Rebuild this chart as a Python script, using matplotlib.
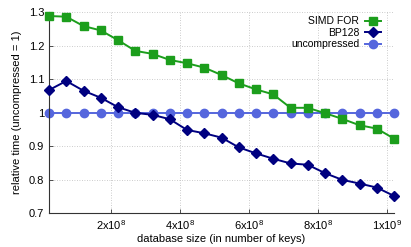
import matplotlib
matplotlib.use("Agg")
import matplotlib.pyplot as plt

plt.rcParams["font.family"] = ["Liberation Sans", "DejaVu Sans"]
plt.rcParams["mathtext.fontset"] = "custom"
plt.rcParams["mathtext.rm"] = "Liberation Sans"

# database size (number of keys)
keys = [2e7 + i * 5e7 for i in range(21)]

simd_for = [1.288, 1.286, 1.258, 1.245, 1.216, 1.184, 1.175, 1.157, 1.147, 1.134,
            1.112, 1.087, 1.069, 1.054, 1.014, 1.014, 0.998, 0.981, 0.962, 0.952, 0.922]
bp128 = [1.067, 1.094, 1.065, 1.044, 1.016, 0.999, 0.993, 0.980, 0.948, 0.938,
         0.925, 0.896, 0.878, 0.862, 0.848, 0.844, 0.819, 0.799, 0.788, 0.776, 0.751]
uncompressed = [1.0] * 21

xticks = [2e8, 4e8, 6e8, 8e8, 1e9]
xticklabels = ["2x10$^8$", "4x10$^8$", "6x10$^8$", "8x10$^8$", "1x10$^9$"]
yticks = [0.7, 0.8, 0.9, 1.0, 1.1, 1.2, 1.3]
yticklabels = ["0.7", "0.8", "0.9", "1", "1.1", "1.2", "1.3"]

fig = plt.figure(figsize=(4.11, 2.47), dpi=100)
ax = fig.add_axes([49 / 411, 1 - 213 / 247, 345 / 411, 201 / 247])

ax.plot(keys, simd_for, color="#1c9e1c", marker="s", markersize=6, linewidth=1.4,
        label="SIMD FOR", clip_on=False, zorder=3)
ax.plot(keys, bp128, color="#000080", marker="D", markersize=5, linewidth=1.4,
        label="BP128", clip_on=False, zorder=3)
ax.plot(keys, uncompressed, color="#5566dd", marker="o", markersize=6, linewidth=1.4,
        label="uncompressed", clip_on=False, zorder=2)

ax.set_xlim(2e7, 1.02e9)
ax.set_ylim(0.7, 1.3)
ax.set_xticks(xticks)
ax.set_xticklabels(xticklabels)
ax.set_yticks(yticks)
ax.set_yticklabels(yticklabels)
ax.tick_params(direction="in", labelsize=8, length=3, width=0.6, colors="#333333")
ax.tick_params(axis="both", labelcolor="black")
for side in ("top", "right"):
    ax.spines[side].set_visible(False)
for side in ("left", "bottom"):
    ax.spines[side].set_color("#333333")
    ax.spines[side].set_linewidth(0.8)

ax.grid(True, linestyle=(0, (1, 2)), color="#bbbbbb", linewidth=0.6)

ax.set_xlabel("database size (in number of keys)", fontsize=8, labelpad=1.5)
ax.set_ylabel("relative time (uncompressed = 1)", fontsize=8, labelpad=5)

ax.legend(loc="upper right", bbox_to_anchor=(0.975, 1.0), frameon=False,
          markerfirst=False, fontsize=7.5, handlelength=1.6, handletextpad=0.5,
          labelspacing=0.15, borderaxespad=0)

fig.savefig("out.png", dpi=100)
